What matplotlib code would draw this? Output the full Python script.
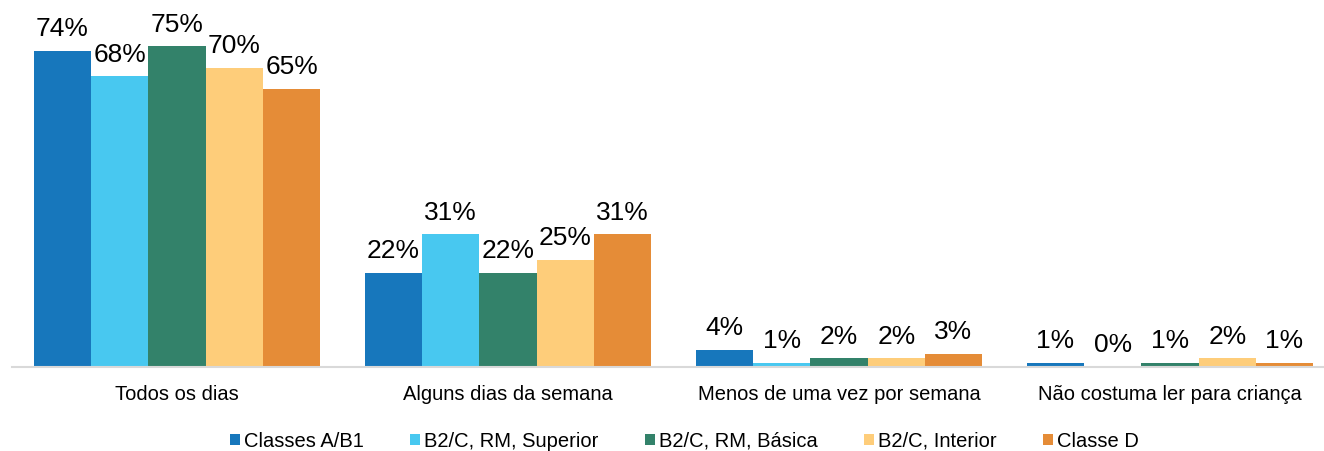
import matplotlib
matplotlib.use("Agg")
import matplotlib.pyplot as plt
from matplotlib.patches import Patch
import numpy as np

plt.rcParams['font.family'] = ['Liberation Sans', 'DejaVu Sans']

categories = ["Todos os dias", "Alguns dias da semana", "Menos de uma vez por semana", "Não costuma ler para criança"]
series = ["Classes A/B1", "B2/C, RM, Superior", "B2/C, RM, Básica", "B2/C, Interior", "Classe D"]
values = [
    [74, 22, 4, 1],
    [68, 31, 1, 0],
    [75, 22, 2, 1],
    [70, 25, 2, 2],
    [65, 31, 3, 1],
]
colors = ["#1777BC", "#48C8F0", "#33826A", "#FECD7A", "#E58C37"]

fig = plt.figure(figsize=(13.24, 4.51), dpi=100)
ax = fig.add_axes([11.5/1324, 84/451, 1 - 11.5/1324, 342/451])

x = np.arange(len(categories))
w = 0.173
for i, (s, vals, c) in enumerate(zip(series, values, colors)):
    pos = x + (i - 2) * w
    ax.bar(pos, vals, width=w, color=c, label=s, zorder=2)
    for p, v in zip(pos, vals):
        ax.annotate(f"{v}%", (p, v), xytext=(0, 7), textcoords="offset points",
                    ha="center", va="bottom", fontsize=19, color="#000000")

ax.set_xlim(-0.5, 3.5 - 11.5/331)
ax.set_ylim(0, 80)
ax.set_yticks([])
ax.set_xticks(x)
ax.set_xticklabels(categories, fontsize=14.5)
ax.tick_params(axis='x', length=0, pad=13)
for sp in ["top", "left", "right"]:
    ax.spines[sp].set_visible(False)
ax.spines["bottom"].set_color("#D9D9D9")
ax.spines["bottom"].set_linewidth(1.5)

handles = [Patch(facecolor=c, edgecolor='none') for c in colors]
fig.legend(handles, series, loc="center", bbox_to_anchor=(0.517, 0.022), ncol=5,
           frameon=False, fontsize=14.5, handlelength=0.5, handleheight=0.5,
           handletextpad=0.2, columnspacing=2.3, borderaxespad=0)

fig.savefig("out.png", dpi=100)
